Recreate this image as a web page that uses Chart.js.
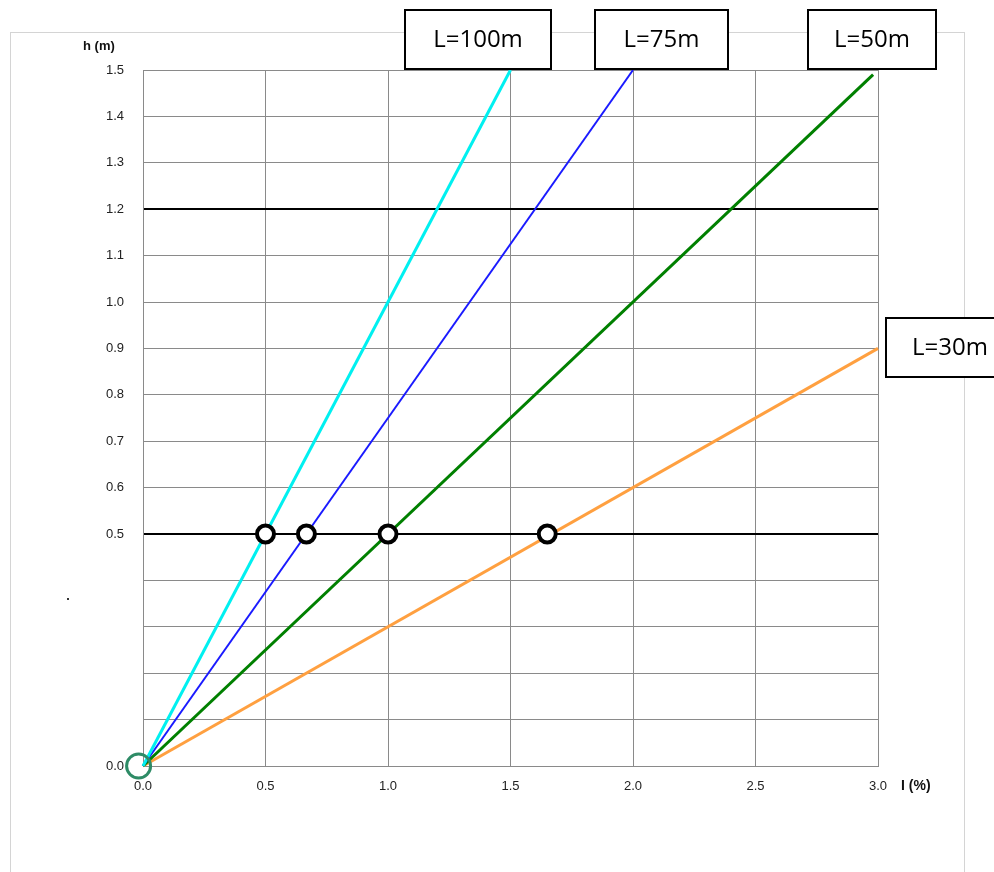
<!DOCTYPE html>
<html>
<head>
<meta charset="utf-8">
<script src="https://cdn.jsdelivr.net/npm/chart.js@4"></script>
<style>
  body { margin: 0; background: #fff; }
  canvas { display: block; }
</style>
</head>
<body>
<canvas id="mychart" width="994" height="872"></canvas>
<script>
// line end points (slope I -> h), all start at origin
const lineNames = ['L=100m', 'L=75m', 'L=50m', 'L=30m'];
const lineEndX = [1.5, 2.0, 2.98, 3.0];
const lineEndY = [1.5, 1.5, 1.49, 0.9];
const lineColors = ['#00f0f0', '#1a1aff', '#008000', '#ffa040'];
const lineWidths = [3, 2, 3, 3];

// intersections with h = 0.5
const markX = [0.5, 0.667, 1.0, 1.65];
const markY = [0.5, 0.5, 0.5, 0.5];

const xTicks = [0, 0.5, 1.0, 1.5, 2.0, 2.5, 3.0];
const yHidden = [0.1, 0.2, 0.3, 0.4];
const thickY = [1.2, 0.5];

const datasets = [];
datasets.push({
  label: 'marks',
  data: markX.map((x, i) => ({x: x, y: markY[i]})),
  showLine: false,
  pointRadius: 8.5,
  pointBorderWidth: 4,
  pointBackgroundColor: '#fff',
  pointBorderColor: '#000',
  order: 0
});
datasets.push({
  label: 'origin',
  data: [{x: -0.018, y: 0}],
  showLine: false,
  pointRadius: 12,
  pointBorderWidth: 3,
  pointBackgroundColor: 'rgba(0,0,0,0)',
  pointBorderColor: '#2e8b66',
  clip: false,
  order: 1
});
lineNames.forEach((n, i) => {
  datasets.push({
    label: n,
    data: [{x: 0, y: 0}, {x: lineEndX[i], y: lineEndY[i]}],
    showLine: true,
    borderColor: lineColors[i],
    borderWidth: lineWidths[i],
    pointRadius: 0,
    fill: false,
    clip: false,
    order: 2 + i
  });
});

function isThick(v) {
  return thickY.some(t => Math.abs(t - v) < 1e-6);
}

const boxes = [
  {text: 'L=100m', l: 405, t: 10, r: 551, b: 69},
  {text: 'L=75m', l: 595, t: 10, r: 728, b: 69},
  {text: 'L=50m', l: 808, t: 10, r: 936, b: 69},
  {text: 'L=30m', l: 886, t: 318, r: 1014, b: 377}
];

const decor = {
  id: 'decor',
  beforeDraw(chart) {
    const c = chart.ctx;
    c.save();
    c.fillStyle = '#fff';
    c.fillRect(0, 0, chart.width, chart.height);
    c.strokeStyle = '#d4d4d4';
    c.lineWidth = 1;
    c.strokeRect(10.5, 32.5, 954, 860);
    c.fillStyle = '#333';
    c.fillRect(67, 598, 2, 2);
    c.restore();
  },
  afterDraw(chart) {
    const c = chart.ctx;
    c.save();
    c.fillStyle = '#111';
    c.font = 'bold 13px "Liberation Sans", Arial, sans-serif';
    c.textBaseline = 'middle';
    c.textAlign = 'left';
    c.fillText('h (m)', 83, 46);
    c.font = 'bold 14px "Liberation Sans", Arial, sans-serif';
    c.fillText('I (%)', 901, 786);
    boxes.forEach(bx => {
      c.fillStyle = '#fff';
      c.fillRect(bx.l, bx.t, bx.r - bx.l, bx.b - bx.t);
      c.strokeStyle = '#000';
      c.lineWidth = 2;
      c.strokeRect(bx.l, bx.t, bx.r - bx.l, bx.b - bx.t);
      c.fillStyle = '#000';
      c.font = '24px "Open Sans", "Noto Sans", sans-serif';
      c.textAlign = 'center';
      c.fillText(bx.text, (bx.l + bx.r) / 2, (bx.t + bx.b) / 2 + 1);
    });
    c.restore();
  }
};

const ctx = document.getElementById('mychart').getContext('2d');
const myChart = new Chart(ctx, {
  type: 'scatter',
  data: { datasets: datasets },
  options: {
    responsive: false,
    animation: false,
    layout: { padding: { left: 0, top: 70, right: 116, bottom: 0 } },
    plugins: { legend: { display: false }, tooltip: { enabled: false } },
    scales: {
      x: {
        type: 'linear',
        min: 0, max: 3,
        afterFit(s) { s.height = 106; },
        afterBuildTicks(s) { s.ticks = xTicks.map(v => ({value: v})); },
        grid: { color: '#8a8a8a', lineWidth: 1, drawTicks: false },
        border: { color: '#8a8a8a' },
        ticks: {
          padding: 13,
          color: '#222',
          font: { family: '"Liberation Sans", Arial, sans-serif', size: 13 },
          callback: v => v.toFixed(1)
        }
      },
      y: {
        type: 'linear',
        min: 0, max: 1.5,
        afterFit(s) { s.width = 143; },
        ticks: {
          stepSize: 0.1,
          padding: 19,
          color: '#222',
          font: { family: '"Liberation Sans", Arial, sans-serif', size: 13 },
          callback: function(v) {
            if (yHidden.some(h => Math.abs(h - v) < 1e-6)) return '';
            return v.toFixed(1);
          }
        },
        grid: {
          drawTicks: false,
          color: c => isThick(c.tick.value) ? '#000' : '#8a8a8a',
          lineWidth: c => isThick(c.tick.value) ? 2 : 1
        },
        border: { color: '#8a8a8a' }
      }
    }
  },
  plugins: [decor]
});
</script>
</body>
</html>
